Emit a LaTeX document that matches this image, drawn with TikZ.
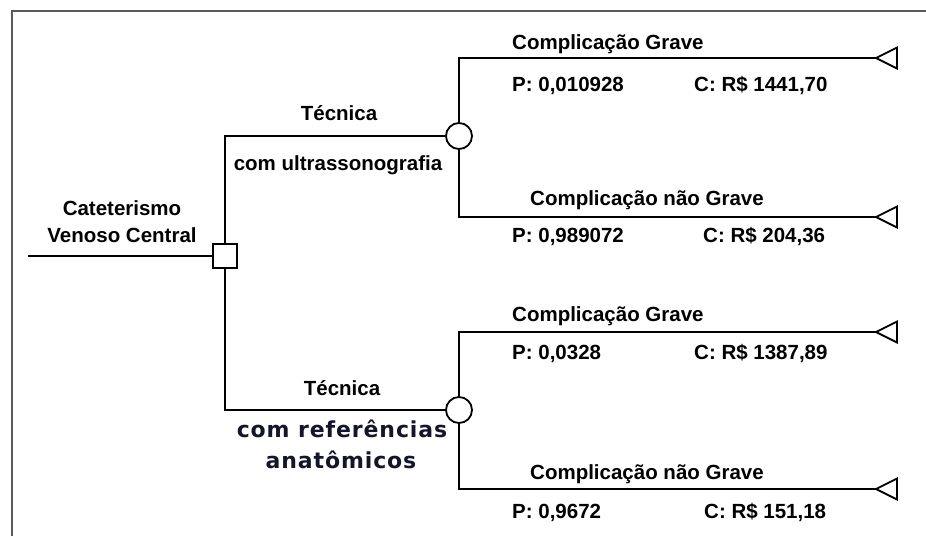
\documentclass[tikz,border=0pt]{standalone}
\usepackage{fontspec}
\setmainfont{Liberation Sans}
\newfontfamily\anatfont[LetterSpace=4]{DejaVu Sans}
\usepackage{tikz}
\usetikzlibrary{positioning, calc}

\definecolor{framegray}{HTML}{5A5A5A}
\definecolor{anatblue}{HTML}{14142A}

\tikzset{
    decision/.style={draw=black, fill=white, rectangle, line width=1.8pt, minimum size=24pt, inner sep=0pt},
    chance/.style={draw=black, fill=white, circle, line width=1.8pt, minimum size=26pt, inner sep=0pt},
    branch/.style={draw=black, line width=1.8pt},
    lbl/.style={font=\fontsize{20.5}{24}\selectfont\bfseries, inner sep=0pt, anchor=base},
    lblleft/.style={lbl, anchor=base west},
    anat/.style={font=\anatfont\fontsize{22}{26}\selectfont\bfseries, text=anatblue, inner sep=0pt, anchor=base},
}

\def\tikframe{%
    % frame, runs off at right and bottom
    \draw[framegray, line width=2.5pt] (12, 536) -- (12, 11) -- (926, 11);
}

\begin{document}
\begin{tikzpicture}[x=1pt, y=-1pt]
    \useasboundingbox (0,0) rectangle (926,536);
    \tikframe

    \coordinate (root) at (28,256);
    \node[decision] (d) at (225,256) {};
    \node[chance] (c1) at (459,136) {};
    \node[chance] (c2) at (459,410) {};
    \coordinate (t1) at (876,58);
    \coordinate (t2) at (876,217);
    \coordinate (t3) at (876,332);
    \coordinate (t4) at (876,489);

    % branches
    \draw[branch] (root) -- (d.west);
    \draw[branch] (d.north) |- (c1.west);
    \draw[branch] (d.south) |- (c2.west);
    \foreach \c/\a/\t in {c1/north/t1, c1/south/t2, c2/north/t3, c2/south/t4}
    {
        \draw[branch] (\c.\a) |- (\t);
    }

    % terminal triangles
    \foreach \t in {t1,t2,t3,t4}
    {
        \draw[branch, line join=miter] (\t) -- ++(21,-10.5) -- ++(0,21) -- cycle;
    }

    % labels on the left
    \foreach \name/\x/\y/\txt in {
        cat/122/215/Cateterismo,
        ven/122/242/Venoso Central,
        tec1/339/120/Técnica,
        usg/338/170/com ultrassonografia,
        tec2/342/395/Técnica}{
        \node[lbl] (\name) at (\x,\y) {\txt};
    }
    \node[anat] (ref) at (342,437) {com referências};
    \node[anat] (ana) at (341,468) {anatômicos};

    % outcome labels
    \foreach \name/\x/\y/\txt in {
        g1/512/49/Complicação Grave,
        p1/512/91/{P: 0,010928},
        k1/694/91/{C: R\$ 1441,70},
        g2/530/205/Complicação não Grave,
        p2/512/242/{P: 0,989072},
        k2/703/242/{C: R\$ 204,36},
        g3/512/321/Complicação Grave,
        p3/512/359/{P: 0,0328},
        k3/694/359/{C: R\$ 1387,89},
        g4/530/479/Complicação não Grave,
        p4/512/518/{P: 0,9672},
        k4/704/518/{C: R\$ 151,18}}{
        \node[lblleft] (\name) at (\x,\y) {\txt};
    }
\end{tikzpicture}
\end{document}
